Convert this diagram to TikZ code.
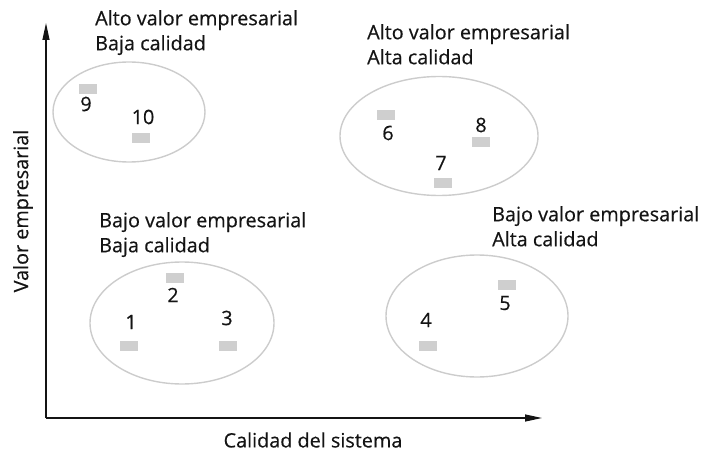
\documentclass[tikz,border=0pt]{standalone}
\usepackage{fontspec}
\setmainfont{Open Sans}[FakeBold=0.4]
\usepackage{tikz}
\usetikzlibrary{arrows.meta,positioning,shapes.geometric}
\definecolor{elipseGris}{HTML}{CCCCCC}
\definecolor{cajaGris}{HTML}{CFCFCF}
\definecolor{tinta}{HTML}{141414}
\tikzset{
  grupo/.style={ellipse,draw=elipseGris,line width=1.4pt,inner sep=0pt},
  sistema/.style={fill=cajaGris,minimum width=18pt,minimum height=9.5pt,inner sep=0pt},
  numero/.style={inner sep=0pt,text=tinta,font=\fontsize{19.8}{24}\selectfont},
  cuadrante/.style={inner sep=0pt,anchor=north west,align=left,text=tinta,
                    font=\fontsize{19.8}{25}\selectfont},
  eje/.style={line width=1.2pt,draw=tinta,-{Triangle[length=17pt,width=7pt]}},
}

\begin{document}
\begin{tikzpicture}[x=1pt,y=-1pt]
\useasboundingbox (0,0) rectangle (708,454);

% ejes
\coordinate (origen) at (46,418);
\coordinate (ejeY) at (46,23);
\coordinate (ejeX) at (542,418);
\draw[eje] (origen) -- (ejeY);
\draw[eje] (origen) -- (ejeX);
\node[numero,rotate=90] (valor) at (23,211) {Valor empresarial};
\node[numero] (calidad) at (313,440) {Calidad del sistema};

% cuadrantes
\node[cuadrante] (tAltoBaja) at (95,10) {Alto valor empresarial\\Baja calidad};
\node[cuadrante] (tAltoAlta) at (367,24) {Alto valor empresarial\\Alta calidad};
\node[cuadrante] (tBajoBaja) at (99,212) {Bajo valor empresarial\\Baja calidad};
\node[cuadrante] (tBajoAlta) at (492,206) {Bajo valor empresarial\\Alta calidad};

\node[grupo,minimum width=152pt,minimum height=100pt] (gAltoBaja) at (129,112) {};
\node[grupo,minimum width=198pt,minimum height=119pt] (gAltoAlta) at (439,136) {};
\node[grupo,minimum width=184pt,minimum height=122pt] (gBajoBaja) at (182,323) {};
\node[grupo,minimum width=182pt,minimum height=122pt] (gBajoAlta) at (477,316) {};

% sistemas
\node[sistema] (s1) at (129,346) {};
\node[sistema] (s2) at (175,278) {};
\node[sistema] (s3) at (228,346) {};
\node[sistema] (s4) at (428,346) {};
\node[sistema] (s5) at (507,285) {};
\node[sistema] (s6) at (386,115) {};
\node[sistema] (s7) at (443,183) {};
\node[sistema] (s8) at (481,142) {};
\node[sistema] (s9) at (88,89) {};
\node[sistema] (s10) at (141,138) {};

\node[numero] (n1) at (131,322) {1};
\node[numero] (n2) at (173,295) {2};
\node[numero] (n3) at (227,318) {3};
\node[numero] (n4) at (426,320) {4};
\node[numero] (n5) at (505,303) {5};
\node[numero] (n6) at (388,133) {6};
\node[numero] (n7) at (441,163) {7};
\node[numero] (n8) at (481,125) {8};
\node[numero] (n9) at (86,104) {9};
\node[numero] (n10) at (143,117) {10};
\end{tikzpicture}
\end{document}
